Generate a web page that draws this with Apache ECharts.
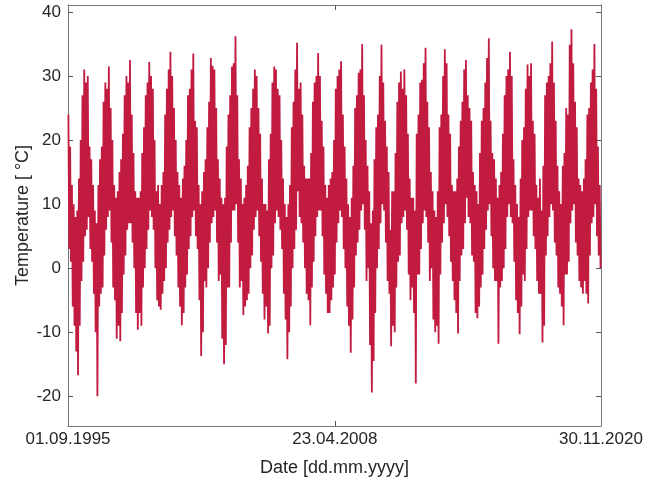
<!DOCTYPE html>
<html>
<head>
<meta charset="utf-8">
<script src="https://cdn.jsdelivr.net/npm/echarts@6/dist/echarts.min.js"></script>
<style>html,body{margin:0;padding:0;background:#fff}#chart{width:657px;height:483px}</style>
</head>
<body>
<div id="chart"></div>
<script>
// Monthly extremes, Sep 1995 .. Nov 2020
const startYear = 1995, startMonth = 8; // September (0-based)
const tMax = [
  24, 19, 13, 10,                                   // 1995 Sep-Dec
  8, 9, 14, 20, 27, 31, 29, 30, 19, 17, 13, 9,       // 1996
  7, 13, 17, 19, 26, 29, 28, 31.5, 25, 20, 13, 11,   // 1997
  12, 15, 17, 21, 27, 30, 29, 32.5, 24, 18, 12, 11,  // 1998
  11, 12, 18, 22, 27, 29, 32.2, 30, 28, 20, 12, 13,  // 1999
  10, 13, 15, 24, 28, 31, 33.8, 30, 25, 20, 15, 13,  // 2000
  11, 14, 16, 20, 27, 28, 31, 33.5, 23, 22, 13, 10,  // 2001
  12, 15, 17, 22, 26, 32.8, 31.6, 31, 25, 17, 14, 11,// 2002
  10, 11, 19, 24, 27, 31.5, 32, 36.2, 27, 17, 14, 10,// 2003
  11, 13, 16, 22, 25, 28, 31, 30, 25, 21, 14, 10,    // 2004
  10, 9, 17, 21, 29, 31.5, 31, 28, 27, 20, 14, 10,   // 2005
  8, 10, 13, 22, 26, 31, 35.2, 28, 29, 24, 16, 14,   // 2006
  14, 14, 18, 26, 29, 30, 33.6, 30, 23, 19, 13, 11,  // 2007
  13, 14, 15, 20, 28, 30, 31, 32.3, 24, 19, 14, 10,  // 2008
  8, 11, 16, 25, 27, 30.5, 31, 35, 27, 20, 16, 12,   // 2009
  7, 9, 17, 22, 24, 30, 34.9, 29, 23, 19, 15, 6,     // 2010
  12, 12, 18, 26, 29, 30.7, 28, 31, 27, 21, 14, 11,  // 2011
  11, 9, 21, 24, 29, 29.4, 32, 34.4, 26, 22, 15, 12, // 2012
  9, 8, 12, 22, 24, 30, 34.2, 32, 24, 21, 13, 12,    // 2013
  12, 14, 19, 23, 26, 31, 32.5, 27, 25, 23, 15, 13,  // 2014
  12, 10, 18, 23, 25, 29, 32.8, 35.9, 23, 18, 17, 14,// 2015
  11, 13, 15, 21, 27, 30, 31, 33.8, 30, 17, 13, 10,  // 2016
  8, 14, 20, 22, 28, 31.8, 30, 32, 23, 21, 13, 11,   // 2017
  14, 9, 16, 27, 29, 30, 32, 35.4, 29, 23, 16, 12,   // 2018
  10, 16, 18, 25, 24, 34.9, 37.3, 32, 26, 22, 14, 13,// 2019
  12, 14, 17, 24, 25, 29, 31, 35, 28, 19, 13         // 2020 Jan-Nov
];
const tMin = [
  3, 1, -6, -9,                                      // 1995 Sep-Dec
  -13, -16.7, -9, -2, 1, 5, 6, 8, 3, 1, -4, -10,     // 1996
  -20, -6, -4, -3, 2, 6, 8, 9, 4, -3, -5, -11,       // 1997
  -9, -11.4, -7, -1, 2, 6, 7, 7, 4, 0, -7, -9.6,     // 1998
  -7, -9, -3, 0, 3, 6, 9, 8, 6, 0, -5, -6,           // 1999
  -6.5, -4, -2, 0, 4, 6, 8, 9, 5, 2, -3, -6,         // 2000
  -8.9, -7, -3, -1, 3, 5, 8, 9, 5, 3, -5, -13.7,     // 2001
  -10, -2, -3, 0, 4, 7, 8, 9, 4, -2, -1, -11,        // 2002
  -15, -12, -3, -3, 4, 9, 9, 10, 4, -3, -2, -7.3,    // 2003
  -6, -5, -4, 0, 2, 6, 8, 9, 5, 1, -4, -8,           // 2004
  -6, -10.2, -9, 0, 2, 7, 9, 8, 6, 3, -4, -8,        // 2005
  -14.2, -10, -6, 0, 3, 6, 12, 8, 7, 4, 0, -4,       // 2006
  -5, -8.9, -3, 1, 5, 8, 9, 9, 5, -1, -4, -7,        // 2007
  -7, -5, -3, -1, 4, 7, 9, 8, 3, 0, -6, -9,          // 2008
  -13.2, -8, -3, 2, 4, 6, 9, 10, 6, -2, 0, -12,      // 2009
  -19.4, -14.5, -7, 0, 3, 7, 10, 9, 4, -2, -4, -12.2,// 2010
  -9, -10, -3, 1, 2, 7, 8, 9, 6, -1, -5, -3,         // 2011
  -7, -18, -1, -1, 3, 7, 9, 8, 4, -2, 0, -8,         // 2012
  -10, -9, -11.8, -1, 4, 7, 10, 8, 5, 1, -2, -5,     // 2013
  -7, -10.2, -2, 2, 3, 7, 11, 8, 7, 2, 1, -7,        // 2014
  -7.8, -6, -3, -1, 3, 6, 9, 10, 5, 0, -2, -2,       // 2015
  -11.8, -3, -2, 0, 3, 8, 10, 8, 7, 1, -5, -7,       // 2016
  -10.3, -6, -1, -2, 3, 8, 9, 9, 5, 3, -2, -4,       // 2017
  -4, -11.6, -9, 2, 5, 8, 10, 9, 4, 2, -3, -4,       // 2018
  -6, -8.9, -1, -1, 1, 7, 9, 10, 4, 2, -2, -3,       // 2019
  -4, -2, -4, -5.5, 2, 7, 8, 10, 5, 2, 0             // 2020 Jan-Nov
];
const yTicks = [-20, -10, 0, 10, 20, 30, 40];
const xTickDates = [[1995, 8, 1], [2008, 3, 23], [2020, 10, 30]];
const yRange = [-24.64, 41.09];

const xMin = new Date(1995, 8, 1).getTime();
const xMax = new Date(2020, 10, 30).getTime();
const xTicks = xTickDates.map(d => new Date(d[0], d[1], d[2]).getTime());

const seriesData = [];
for (let i = 0; i < tMax.length; i++) {
  const y = startYear + Math.floor((startMonth + i) / 12);
  const m = (startMonth + i) % 12;
  seriesData.push([new Date(y, m, 8).getTime(), tMax[i]]);
  seriesData.push([new Date(y, m, 22).getTime(), tMin[i]]);
}

function pad(n) { return (n < 10 ? '0' : '') + n; }
function fmtDate(v) {
  const d = new Date(v);
  return pad(d.getDate()) + '.' + pad(d.getMonth() + 1) + '.' + d.getFullYear();
}

const FONT = 'Liberation Sans, Arial, Helvetica, sans-serif';
const axisLineStyle = { color: '#777777', width: 1 };
const tickStyle = { color: '#555555', width: 1 };

const chart = echarts.init(document.getElementById('chart'), null, { renderer: 'canvas' });
chart.setOption({
  animation: false,
  backgroundColor: '#ffffff',
  grid: { left: 68, right: 56, top: 5, bottom: 57, containLabel: false },
  xAxis: [{
    type: 'value', min: xMin, max: xMax, position: 'bottom', scale: true,
    name: 'Date [dd.mm.yyyy]', nameLocation: 'middle', nameGap: 33, nameMoveOverlap: false,
    nameTextStyle: { fontFamily: FONT, fontSize: 18, color: '#262626' },
    axisLine: { show: true, onZero: false, lineStyle: axisLineStyle },
    axisTick: { show: true, inside: true, length: 5, customValues: [xTicks[1]], lineStyle: tickStyle },
    axisLabel: { customValues: xTicks, formatter: fmtDate, fontFamily: FONT, fontSize: 17, color: '#262626', margin: 5, hideOverlap: false, showMinLabel: true, showMaxLabel: true },
    splitLine: { show: false }
  }, {
    type: 'value', min: xMin, max: xMax, position: 'top', scale: true,
    axisLine: { show: true, onZero: false, lineStyle: axisLineStyle },
    axisTick: { show: true, inside: true, length: 5, customValues: [xTicks[1]], lineStyle: tickStyle },
    axisLabel: { show: false },
    splitLine: { show: false }
  }],
  yAxis: [{
    type: 'value', min: yRange[0], max: yRange[1], position: 'left',
    name: 'Temperature [ °C]', nameLocation: 'middle', nameGap: 36, nameRotate: 90, nameMoveOverlap: false,
    nameTextStyle: { fontFamily: FONT, fontSize: 18, color: '#262626' },
    axisLine: { show: true, onZero: false, lineStyle: axisLineStyle },
    axisTick: { show: true, inside: true, length: 5, customValues: yTicks, lineStyle: tickStyle },
    axisLabel: { customValues: yTicks, fontFamily: FONT, fontSize: 17, color: '#262626', margin: 7 },
    splitLine: { show: false }
  }, {
    type: 'value', min: yRange[0], max: yRange[1], position: 'right',
    axisLine: { show: true, onZero: false, lineStyle: axisLineStyle },
    axisTick: { show: true, inside: true, length: 5, customValues: yTicks, lineStyle: tickStyle },
    axisLabel: { show: false },
    splitLine: { show: false }
  }],
  series: [{
    type: 'line', xAxisIndex: 0, yAxisIndex: 0,
    data: seriesData, showSymbol: false, symbol: 'none',
    sampling: null, clip: true,
    lineStyle: { color: '#c11b40', width: 1.8, join: 'bevel' },
    itemStyle: { color: '#c11b40' },
    emphasis: { disabled: true }
  }]
});
</script>
</body>
</html>
